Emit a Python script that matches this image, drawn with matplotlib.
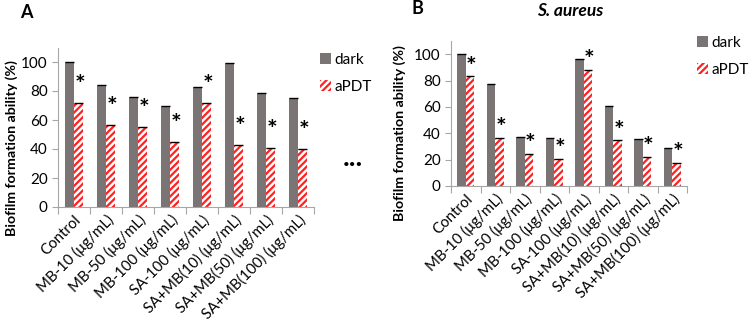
import matplotlib.pyplot as plt
import numpy as np
from matplotlib.patches import Patch

plt.rcParams['font.family'] = ['Lato', 'DejaVu Sans']
plt.rcParams['hatch.linewidth'] = 1.6

categories = ["Control", "MB-10 (μg/mL)", "MB-50 (μg/mL)", "MB-100 (μg/mL)",
              "SA-100 (μg/mL)", "SA+MB(10) (μg/mL)", "SA+MB(50) (μg/mL)",
              "SA+MB(100) (μg/mL)"]

# panel A
dark_a = [100, 84.3, 76, 69.7, 82.6, 99.4, 78.6, 75.1]
apdt_a = [71.7, 56.7, 55.2, 44.6, 71.7, 42.6, 41.0, 39.8]

# panel B, S. aureus
dark_b = [100, 77, 37.1, 36.6, 96.4, 60.6, 35.8, 29.0]
apdt_b = [83.1, 36.3, 24.2, 20.6, 88.3, 34.6, 22.0, 17.4]

grey = '#7a7475'
red = '#ff2020'
spine = '#a6a6a6'


def panel(ax, dark, apdt, ymax, star_off):
    x = np.arange(len(categories)) + 0.5
    w = 0.29
    ax.bar(x - w / 2, dark, w, color=grey, linewidth=0)
    ax.bar(x + w / 2, apdt, w, color='white', edgecolor=red, hatch='/////', linewidth=0)
    # black caps on bar tops
    ax.hlines(dark, x - w, x, color='black', lw=1.0)
    ax.hlines(apdt, x, x + w, color='black', lw=1.0)
    for xi, v in zip(x, apdt):
        ax.text(xi + w / 2 + 0.05, v + star_off, '*', ha='center', va='center',
                fontsize=18, fontweight='bold')
    ax.set_xlim(0, len(categories))
    ax.set_ylim(0, ymax)
    ax.set_yticks([0, 20, 40, 60, 80, 100])
    ax.set_xticks(np.arange(len(categories) + 1))
    ax.set_xticklabels([])
    ax.set_xticks(x, minor=True)
    ax.set_xticklabels(categories, minor=True, rotation=45, ha='right',
                       rotation_mode='anchor', fontsize=10.8)
    ax.tick_params(axis='x', which='minor', length=0, pad=4)
    ax.tick_params(axis='x', which='major', length=5, color=spine, direction='out')
    ax.tick_params(axis='y', length=4, color=spine, labelsize=11, direction='out')
    for s in ['top', 'right']:
        ax.spines[s].set_visible(False)
    for s in ['left', 'bottom']:
        ax.spines[s].set_color(spine)
    ax.set_ylabel('Biofilm formation ability (%)', fontsize=10.2, fontweight='bold')


fig = plt.figure(figsize=(7.5, 3.21), dpi=100)

ax_a = fig.add_axes([58 / 750, 1 - 207 / 321, 256 / 750, 159.5 / 321])
panel(ax_a, dark_a, apdt_a, 110, 12)
ax_a.yaxis.set_label_coords(-0.155, 0.37)

ax_b = fig.add_axes([451 / 750, 1 - 186 / 321, 236 / 750, 145 / 321])
panel(ax_b, dark_b, apdt_b, 110, 7)
ax_b.yaxis.set_label_coords(-0.19, 0.365)

handles = [Patch(facecolor=grey, linewidth=0),
           Patch(facecolor='white', edgecolor=red, hatch='/////', linewidth=0)]
for pos in [(320 / 750, 1 - 53 / 321), (697 / 750, 1 - 36 / 321)]:
    fig.legend(handles, ['dark', 'aPDT'], loc='upper left', bbox_to_anchor=pos,
               frameon=False, fontsize=11, handlelength=0.7, handleheight=0.7,
               handletextpad=0.25, labelspacing=0.85, borderaxespad=0,
               borderpad=0)

fig.text(353 / 750, 1 - 158 / 321, '...', ha='center', va='center',
         fontsize=20, fontweight='bold')
fig.text(26 / 750, 1 - 13 / 321, 'A', ha='center', va='center',
         fontsize=13, fontweight='bold')
fig.text(417 / 750, 1 - 8 / 321, 'B', ha='center', va='center',
         fontsize=13, fontweight='bold')
fig.text(570 / 750, 1 - 11 / 321, 'S. aureus', ha='center', va='center',
         fontsize=12.5, fontweight='bold', style='italic')

fig.savefig('out.png', dpi=100)
